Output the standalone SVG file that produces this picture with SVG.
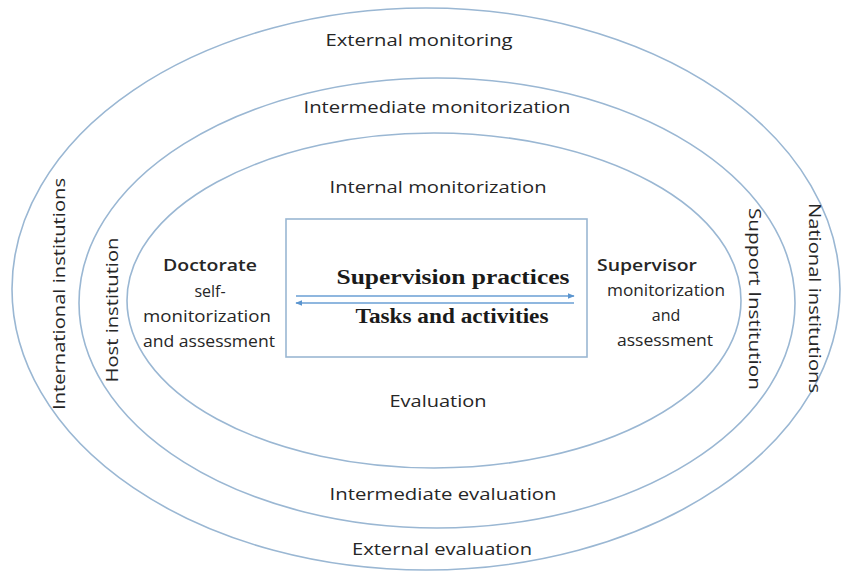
<svg xmlns="http://www.w3.org/2000/svg" width="842" height="574" viewBox="0 0 842 574">
<defs>
<style>
.ring{fill:none;stroke:#9ab7d3;stroke-width:1.6}
.t{font-family:"Open Sans","DejaVu Sans",sans-serif;font-size:16px;fill:#262626;text-anchor:middle}
.b{font-weight:600;font-size:17px}
.s{font-family:"Liberation Serif","Times New Roman",serif;font-weight:bold;font-size:20px;fill:#1a1a1a;text-anchor:middle}
.arr{stroke:#6a9fd4;stroke-width:1.5;fill:none}
</style>
<marker id="ah" viewBox="0 0 10 10" refX="9" refY="5" markerWidth="7" markerHeight="7" orient="auto-start-reverse" markerUnits="userSpaceOnUse">
<path d="M0,1 L10,5 L0,9 z" fill="#5b95cf"/>
</marker>
</defs>
<rect width="842" height="574" fill="#ffffff"/>
<g id="outer">
<ellipse class="ring" cx="426" cy="289" rx="414" ry="281"/>
<text class="t" x="419" y="46" textLength="187" lengthAdjust="spacingAndGlyphs">External monitoring</text>
<text class="t" x="442" y="555" textLength="180" lengthAdjust="spacingAndGlyphs">External evaluation</text>
<text class="t" transform="translate(65,294) rotate(-90)" textLength="232" lengthAdjust="spacingAndGlyphs">International institutions</text>
<text class="t" transform="translate(809,298) rotate(90)" textLength="190" lengthAdjust="spacingAndGlyphs">National institutions</text>
</g>
<g id="middle">
<ellipse class="ring" cx="437" cy="303" rx="358" ry="225"/>
<text class="t" x="437" y="113" textLength="267" lengthAdjust="spacingAndGlyphs">Intermediate monitorization</text>
<text class="t" x="443" y="500" textLength="227" lengthAdjust="spacingAndGlyphs">Intermediate evaluation</text>
<text class="t" transform="translate(118,310) rotate(-90)" textLength="145" lengthAdjust="spacingAndGlyphs">Host institution</text>
<text class="t" transform="translate(749,299) rotate(90)" textLength="182" lengthAdjust="spacingAndGlyphs">Support Institution</text>
</g>
<g id="inner">
<ellipse class="ring" cx="434" cy="300.5" rx="307" ry="167.5"/>
<text class="t" x="438" y="193" textLength="217" lengthAdjust="spacingAndGlyphs">Internal monitorization</text>
<text class="t" x="438" y="407" textLength="97" lengthAdjust="spacingAndGlyphs">Evaluation</text>
</g>
<g id="doctorate">
<text class="t b" x="210" y="271" textLength="94" lengthAdjust="spacingAndGlyphs">Doctorate</text>
<text class="t" x="210" y="297">self-</text>
<text class="t" x="207" y="322" textLength="128" lengthAdjust="spacingAndGlyphs">monitorization</text>
<text class="t" x="209" y="347" textLength="132" lengthAdjust="spacingAndGlyphs">and assessment</text>
</g>
<g id="supervisor">
<text class="t b" x="647" y="271" textLength="100" lengthAdjust="spacingAndGlyphs">Supervisor</text>
<text class="t" x="666" y="296" textLength="118" lengthAdjust="spacingAndGlyphs">monitorization</text>
<text class="t" x="666" y="321">and</text>
<text class="t" x="665" y="346" textLength="96" lengthAdjust="spacingAndGlyphs">assessment</text>
</g>
<g id="center">
<rect x="286" y="219" width="301" height="138" fill="none" stroke="#9ab7d3" stroke-width="1.6"/>
<text class="s" x="453" y="284" textLength="233" lengthAdjust="spacingAndGlyphs">Supervision practices</text>
<text class="s" x="452" y="323" textLength="193" lengthAdjust="spacingAndGlyphs">Tasks and activities</text>
</g>
<g id="connectors">
<line class="arr" x1="296" y1="296" x2="574" y2="296" marker-end="url(#ah)"/>
<line class="arr" x1="574" y1="303" x2="296" y2="303" marker-end="url(#ah)"/>
</g>
</svg>
